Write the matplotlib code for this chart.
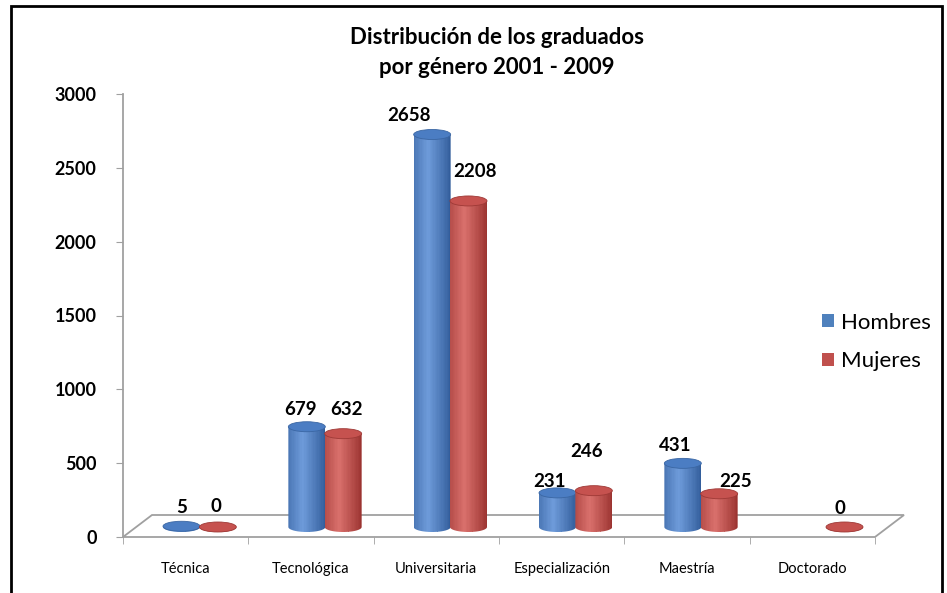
import numpy as np
import matplotlib
matplotlib.use("Agg")
import matplotlib.pyplot as plt
from matplotlib.patches import Rectangle, Ellipse, Polygon, Patch
from matplotlib.transforms import offset_copy
from matplotlib.colors import to_rgb

categorias = ["Técnica", "Tecnológica", "Universitaria", "Especialización", "Maestría", "Doctorado"]
hombres = [5, 679, 2658, 231, 431, None]   # doctorado sin dato para hombres
mujeres = [0, 632, 2208, 246, 225, 0]
series = ["Hombres", "Mujeres"]
y_ticks = [0, 500, 1000, 1500, 2000, 2500, 3000]

# excel puts the 3d labels a bit all over the place, nudges in pixels
nudge_h = [(0, 19), (-6, 17), (-23, 19), (-8, 11), (-8, 18), (0, 0)]
nudge_m = [(-2, 20), (3, 24), (6, 29), (-7, 39), (16, 12), (-5, 19)]

plt.rcParams['font.family'] = ['Lato', 'DejaVu Sans']

W, H = 947, 593
fig = plt.figure(figsize=(W / 100, H / 100), dpi=100)
ax = fig.add_axes([123 / W, (H - 537) / H, (875 - 123) / W, (537 - 94) / H])
ax.set_xlim(0, 6)
ax.set_ylim(0, 3000)

gris = '#A0A0A0'
px_y = 3000 / 443          # data units per pixel (y)
px_x = 6 / (875 - 123)     # data units per pixel (x)

# floor of the 3d box
fondo_x, fondo_y = 29 * px_x, 22 * px_y
piso = Polygon([(0, 0), (6, 0), (6 + fondo_x, fondo_y), (fondo_x, fondo_y)], closed=True,
               facecolor='white', edgecolor=gris, lw=1.3, clip_on=False, zorder=1)
ax.add_patch(piso)

for s in ['top', 'right', 'bottom']:
    ax.spines[s].set_visible(False)
ax.spines['left'].set_color(gris)
ax.spines['left'].set_linewidth(1.3)

ax.set_yticks(y_ticks)
ax.set_yticklabels([str(t) for t in y_ticks], fontsize=13, fontweight='bold')
ax.tick_params(axis='y', direction='out', length=5, color=gris, pad=14)

ax.set_xticks(np.arange(len(categorias)) + 0.5)
ax.set_xticklabels(categorias, fontsize=10.5)
ax.set_xticks(np.arange(len(categorias) + 1), minor=True)
ax.tick_params(axis='x', which='major', length=0, pad=18)
ax.tick_params(axis='x', which='minor', direction='out', length=5, color=gris)


def sombras(borde, luz, n=28):
    c1 = np.array(to_rgb(borde))
    c2 = np.array(to_rgb(luz))
    pos = np.linspace(0, 1, n)
    k = np.clip(1 - np.abs(pos - 0.38) / 0.62, 0, 1) ** 0.9
    return [tuple(c1 + (c2 - c1) * kk) for kk in k]


colores = {
    'Hombres': (sombras('#335E9C', '#6E9BDA'), '#4B7DC3', '#3A66A3'),
    'Mujeres': (sombras('#9C3431', '#D9706C'), '#C6524F', '#9E3936'),
}

tr = offset_copy(ax.transData, fig, x=14, y=10, units='dots')
ancho = 0.295
eh = 10 * px_y


def cilindro(x, v, estilo):
    tiras, tapa, borde = estilo
    t = np.linspace(0, np.pi, 40)
    verts = [(x - ancho / 2, v), (x + ancho / 2, v)]
    verts += list(zip(x + ancho / 2 * np.cos(t), -eh / 2 * np.sin(t)))
    silueta = Polygon(verts, closed=True, facecolor='none', edgecolor='none',
                      transform=tr, clip_on=False, zorder=3)
    ax.add_patch(silueta)
    n = len(tiras)
    for k, c in enumerate(tiras):
        r = Rectangle((x - ancho / 2 + k * ancho / n, -eh), ancho / n * 1.05, v + 2 * eh,
                      facecolor=c, lw=0, transform=tr, zorder=3)
        r.set_clip_path(silueta)
        ax.add_patch(r)
    ax.add_patch(Ellipse((x, v), ancho, eh, facecolor=tapa, edgecolor=borde, lw=0.6,
                         transform=tr, clip_on=False, zorder=3))


for nombre, valores, nudges, desp in [("Hombres", hombres, nudge_h, -0.145),
                                      ("Mujeres", mujeres, nudge_m, 0.145)]:
    for i, v in enumerate(valores):
        if v is None:
            continue
        x = i + 0.5 + desp
        cilindro(x, v, colores[nombre])
        ax.annotate(str(v), (x, v), xycoords=tr, xytext=nudges[i], textcoords='offset pixels',
                    ha='center', va='center', fontsize=13.5, fontweight='bold', zorder=5)

fig.legend(handles=[Patch(facecolor='#4F81BD', label='Hombres'),
                    Patch(facecolor='#C0504D', label='Mujeres')],
           loc='center left', bbox_to_anchor=(822 / W, 1 - 342 / H), frameon=False,
           borderpad=0, borderaxespad=0,
           fontsize=16, handlelength=0.55, handleheight=0.55, handletextpad=0.3, labelspacing=0.85)

fig.text(497 / W, 1 - 37 / H, "Distribución de los graduados", ha='center', va='center',
         fontsize=16, fontweight='bold')
fig.text(497 / W, 1 - 67 / H, "por género 2001 - 2009", ha='center', va='center',
         fontsize=16, fontweight='bold')

# frame of the picture
fig.patches.append(Rectangle((11 / W, -0.1), (942 - 11) / W, 1.1 - 6 / H, transform=fig.transFigure,
                             fill=False, edgecolor='black', lw=2))

fig.savefig('out.png', dpi=100)
